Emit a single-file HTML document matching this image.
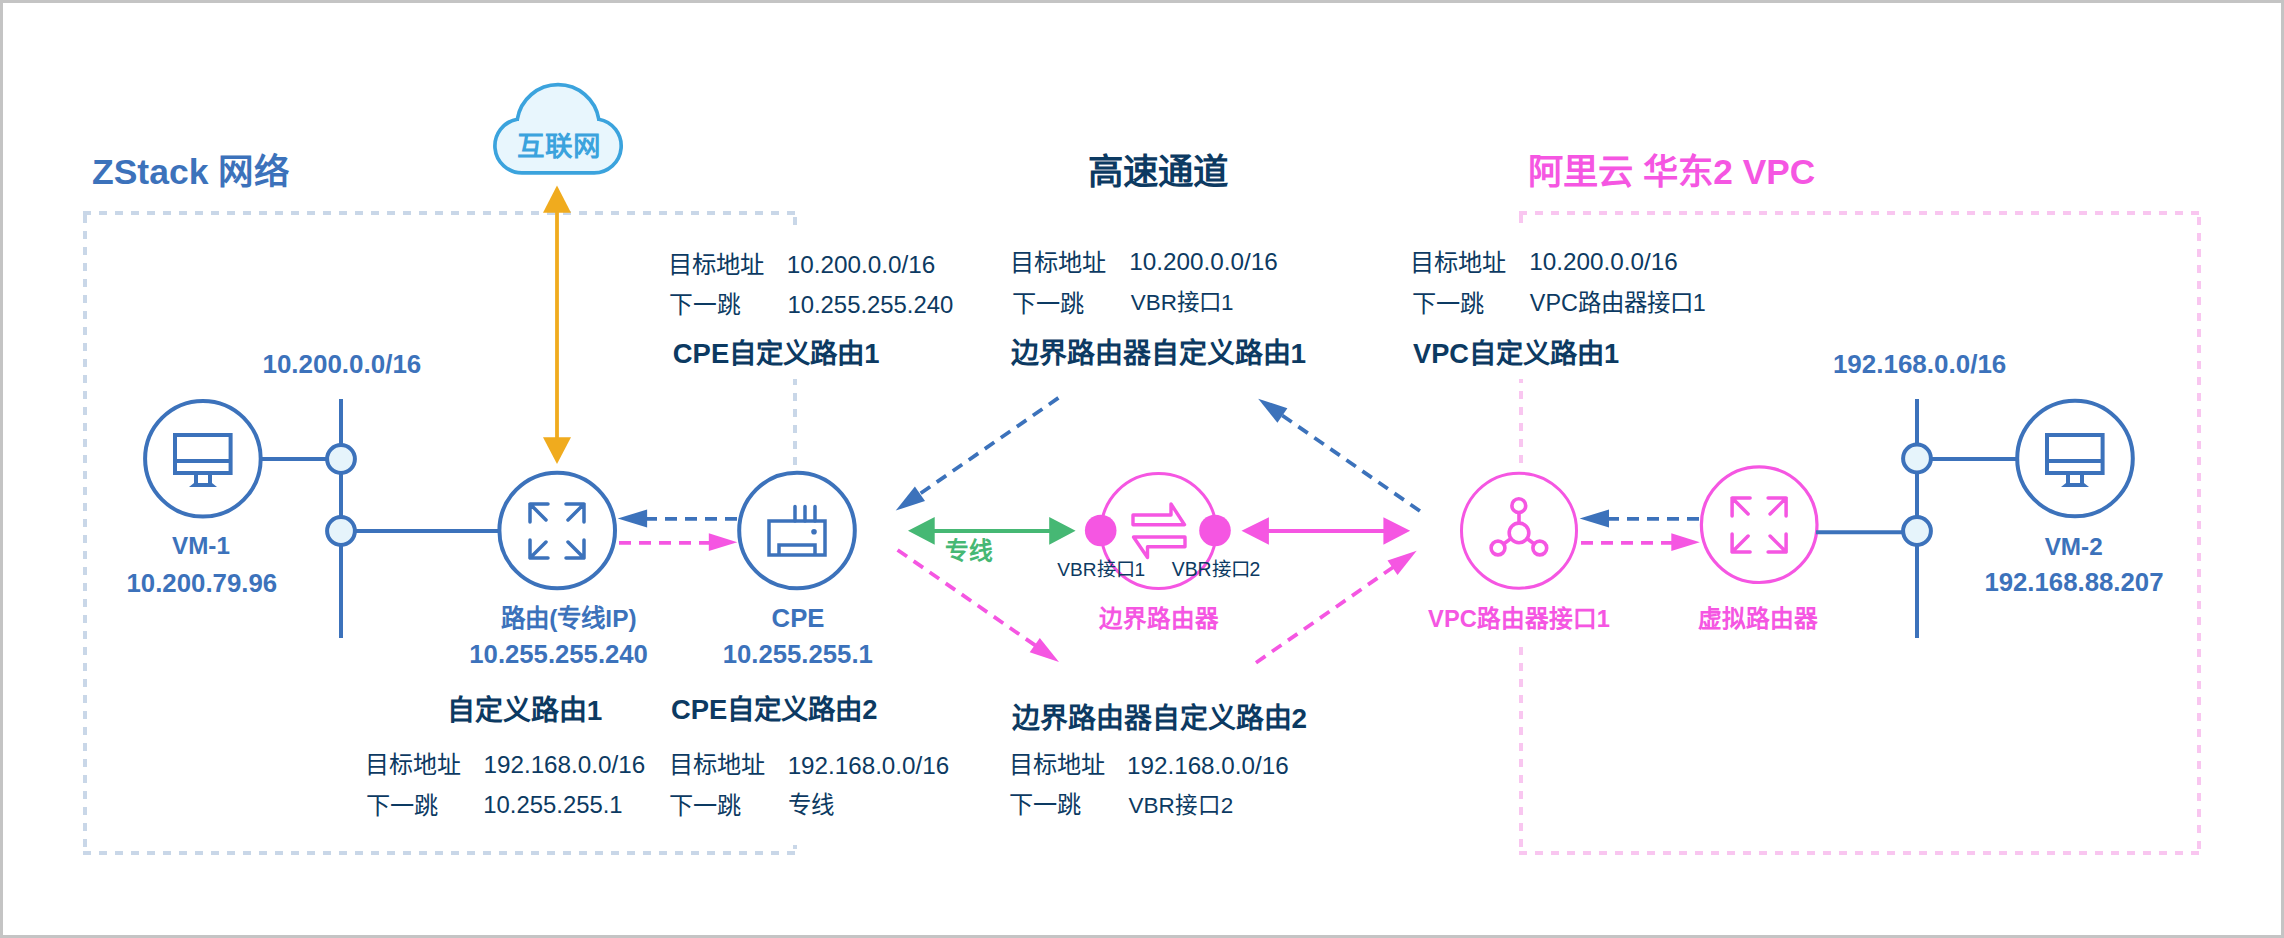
<!DOCTYPE html>
<html lang="zh-CN"><head><meta charset="utf-8">
<style>
html,body{margin:0;padding:0;background:#fff;}
body{width:2284px;height:938px;position:relative;overflow:hidden;font-family:"Liberation Sans",sans-serif;}
#frame{position:absolute;left:0;top:0;width:2278px;height:932px;border:3px solid #c4c4c4;}
svg{position:absolute;left:0;top:0;}
.t{position:absolute;white-space:nowrap;line-height:1;}
.c{transform:translateX(-50%);}
.nav{color:#0c3a62;}
.blu{color:#3c72bb;}
.pnk{color:#f556e2;}
.r{font-size:23px;}
.b{font-weight:bold;}
.b .k{}
</style></head>
<body>
<div id="frame"></div>
<svg width="2284" height="938" viewBox="0 0 2284 938">
  <defs>
    <clipPath id="clipZR"><rect x="780" y="210" width="30" height="15"/><rect x="780" y="379" width="30" height="86"/><rect x="780" y="845" width="30" height="15"/></clipPath>
    <clipPath id="clipPL"><rect x="1505" y="210" width="30" height="13"/><rect x="1505" y="379" width="30" height="84"/><rect x="1505" y="644" width="30" height="215"/></clipPath>
    <g id="monitor">
      <rect x="-28" y="-24" width="55.6" height="38" fill="none" stroke="#3c72bb" stroke-width="4"/>
      <line x1="-28" y1="2" x2="27.6" y2="2" stroke="#3c72bb" stroke-width="4"/>
      <path d="M-7 16 V24 M7 16 V24" stroke="#3c72bb" stroke-width="4"/>
      <path d="M-9 24 H9 L14 28 H-14 Z" fill="#3c72bb"/>
    </g>
    <g id="expand">
      <path d="M-27 -9 V-27 H-9 M-27 -27 L-11 -11 M27 -9 V-27 H9 M27 -27 L11 -11 M-27 9 V27 H-9 M-27 27 L-11 11 M27 9 V27 H9 M27 27 L11 11" fill="none" stroke-width="3.5" stroke-linecap="round" stroke-linejoin="round"/>
    </g>
  </defs>

  <!-- dashed boxes -->
  <g stroke="#c9d7e8" stroke-width="4" fill="none" stroke-dasharray="8 8">
    <line x1="83" y1="213" x2="797" y2="213"/>
    <line x1="85" y1="215" x2="85" y2="855"/>
    <line x1="83" y1="853" x2="797" y2="853"/>
    <line x1="795" y1="217" x2="795" y2="855" clip-path="url(#clipZR)"/>
  </g>
  <g stroke="#f9c6f0" stroke-width="4" fill="none" stroke-dasharray="8 8">
    <line x1="1519" y1="213" x2="2201" y2="213"/>
    <line x1="1521" y1="215" x2="1521" y2="855" clip-path="url(#clipPL)"/>
    <line x1="1519" y1="853" x2="2201" y2="853"/>
    <line x1="2199" y1="217" x2="2199" y2="855"/>
  </g>

  <!-- cloud -->
  <path d="M522.1 172.9 A27 27 0 0 1 517.3 119.3 A41.3 41.3 0 0 1 598.8 119.3 A27 27 0 0 1 594 172.9 Z" fill="#e8f6fd" stroke="#3ba3dd" stroke-width="3.7"/>

  <!-- orange arrow -->
  <line x1="557" y1="211" x2="557" y2="439" stroke="#f0ab1e" stroke-width="3.8"/>
  <path d="M557 185.6 L571 212.7 H543 Z" fill="#f0ab1e"/>
  <path d="M557 464.1 L571 437.3 H543 Z" fill="#f0ab1e"/>

  <!-- left network -->
  <g stroke="#3c72bb" stroke-width="4" fill="none">
    <line x1="341" y1="399" x2="341" y2="638"/>
    <line x1="261" y1="459" x2="326" y2="459"/>
    <line x1="356" y1="531" x2="498" y2="531"/>
    <circle cx="202.9" cy="458.8" r="57.8" fill="#fff"/>
    <circle cx="557.2" cy="530.5" r="57.8" fill="#fff"/>
    <circle cx="797" cy="530.5" r="57.8" fill="#fff"/>
    <circle cx="341" cy="459" r="13.9" fill="#e6f4fb"/>
    <circle cx="341" cy="531" r="13.9" fill="#e6f4fb"/>
  </g>
  <use href="#monitor" x="203" y="459"/>
  <g stroke="#3c72bb"><use href="#expand" x="557" y="531"/></g>
  <!-- CPE icon -->
  <g stroke="#3c72bb" stroke-width="3.5" fill="none">
    <rect x="769" y="521" width="56" height="34"/>
    <path d="M779 555 V545 H815 V555"/>
    <path d="M795 506.5 V521 M805 506.5 V521 M815 506.5 V521" stroke-linecap="round"/>
  </g>
  <circle cx="814" cy="531.8" r="2.8" fill="#3c72bb"/>

  <!-- router<->CPE dashed arrows -->
  <line x1="737" y1="518.8" x2="645" y2="518.8" stroke="#3c72bb" stroke-width="3.8" stroke-dasharray="12 8"/>
  <path d="M617.7 518.5 L647.1 509.5 V527.5 Z" fill="#3c72bb"/>
  <line x1="619" y1="542.8" x2="712" y2="542.8" stroke="#f556e2" stroke-width="3.8" stroke-dasharray="12 8"/>
  <path d="M737.3 542.3 L708.8 533.3 V551 Z" fill="#f556e2"/>

  <!-- green double arrow -->
  <line x1="932" y1="531" x2="1052" y2="531" stroke="#46b874" stroke-width="4"/>
  <path d="M908 530.8 L934.7 517.1 V544.7 Z M1075.6 530.8 L1049.2 517.1 V544.7 Z" fill="#46b874"/>

  <!-- edge router -->
  <circle cx="1158.6" cy="531" r="57.5" fill="#fff" stroke="#f556e2" stroke-width="3"/>
  <path d="M1133 515 H1171 V504 L1184.5 524.7 H1133 Z M1185 537 H1133.5 L1147.5 557.5 V546.8 H1185 Z" fill="none" stroke="#f556e2" stroke-width="3.4" stroke-linejoin="round"/>
  <circle cx="1100.7" cy="530.5" r="15.8" fill="#f556e2"/>
  <circle cx="1215" cy="530.5" r="15.8" fill="#f556e2"/>

  <!-- pink double arrow -->
  <line x1="1266" y1="531" x2="1386" y2="531" stroke="#f556e2" stroke-width="4"/>
  <path d="M1241.5 530.7 L1268.9 517.3 V544.7 Z M1410.2 530.7 L1383.4 517.3 V544.7 Z" fill="#f556e2"/>

  <!-- diagonal arrows -->
  <g stroke-width="3.8" stroke-dasharray="11.5 8">
    <line x1="1058.4" y1="397.9" x2="918.3" y2="494.9" stroke="#3c72bb"/>
    <path d="M895.7 510.6 L914.9 486.6 L925.0 501.0 Z" fill="#3c72bb" stroke="none"/>
    <line x1="1419.9" y1="511" x2="1280.8" y2="414.4" stroke="#3c72bb"/>
    <path d="M1258.2 398.7 L1287.4 408.3 L1277.4 422.8 Z" fill="#3c72bb" stroke="none"/>
    <line x1="897.6" y1="550" x2="1036.4" y2="646.2" stroke="#f556e2"/>
    <path d="M1059 661.9 L1029.7 652.3 L1039.8 637.9 Z" fill="#f556e2" stroke="none"/>
    <line x1="1256" y1="662.7" x2="1394.1" y2="566.5" stroke="#f556e2"/>
    <path d="M1416.7 550.8 L1397.5 574.9 L1387.5 560.4 Z" fill="#f556e2" stroke="none"/>
  </g>

  <!-- VPC router interface -->
  <circle cx="1519" cy="530.7" r="57.5" fill="#fff" stroke="#f556e2" stroke-width="3"/>
  <g stroke="#f556e2" stroke-width="3.6" fill="none">
    <circle cx="1519" cy="532.9" r="9.8"/>
    <circle cx="1518.8" cy="505.7" r="6.9"/>
    <circle cx="1498" cy="548" r="6.9"/>
    <circle cx="1539.8" cy="548" r="6.9"/>
    <line x1="1519" y1="512.6" x2="1519" y2="523.1"/>
    <line x1="1503.5" y1="544" x2="1511" y2="538.5"/>
    <line x1="1534.3" y1="544" x2="1527" y2="538.5"/>
  </g>
  <!-- VPC <-> virtual router dashed arrows -->
  <line x1="1699" y1="518.8" x2="1606" y2="518.8" stroke="#3c72bb" stroke-width="3.8" stroke-dasharray="12 8"/>
  <path d="M1579.6 518.5 L1609 509.5 V527.5 Z" fill="#3c72bb"/>
  <line x1="1581" y1="542.8" x2="1674" y2="542.8" stroke="#f556e2" stroke-width="3.8" stroke-dasharray="12 8"/>
  <path d="M1699.8 542.3 L1671.3 533.3 V551 Z" fill="#f556e2"/>

  <!-- virtual router -->
  <circle cx="1759.2" cy="524.7" r="57.8" fill="#fff" stroke="#f556e2" stroke-width="3.2"/>
  <g stroke="#f556e2"><use href="#expand" x="1759.1" y="525"/></g>

  <!-- right network -->
  <g stroke="#3c72bb" stroke-width="4" fill="none">
    <line x1="1917" y1="399" x2="1917" y2="638"/>
    <line x1="1932" y1="459" x2="2016" y2="459"/>
    <line x1="1816" y1="532.2" x2="1902" y2="532.2"/>
    <circle cx="2075" cy="458.5" r="57.8" fill="#fff"/>
    <circle cx="1917" cy="458.5" r="13.9" fill="#e6f4fb"/>
    <circle cx="1917" cy="531" r="13.9" fill="#e6f4fb"/>
  </g>
  <use href="#monitor" x="2075" y="459"/>
</svg>

<div class="t b blu" style="left:92.00px;top:155.30px;font-size:35.51px;">ZStack <span class="k">网络</span></div>
<div class="t b nav" style="left:1088.25px;top:155.20px;font-size:35.45px;"><span class="k">高速通道</span></div>
<div class="t b pnk" style="left:1528.45px;top:154.20px;font-size:35.28px;"><span class="k">阿里云</span> <span class="k">华东</span>2 VPC</div>
<div class="t b" style="left:517.00px;top:132.70px;font-size:27.55px;color:#3ba3dd;"><span class="k">互联网</span></div>
<div class="t nav" style="left:668.25px;top:252.50px;font-size:24.35px;">目标地址</div>
<div class="t nav" style="left:786.75px;top:253.20px;font-size:24.29px;">10.200.0.0/16</div>
<div class="t nav" style="left:669.25px;top:293.10px;font-size:23.77px;">下一跳</div>
<div class="t nav" style="left:787.45px;top:292.90px;font-size:23.87px;">10.255.255.240</div>
<div class="t b nav" style="left:672.80px;top:339.60px;font-size:27.44px;">CPE<span class="k">自定义路由</span>1</div>
<div class="t nav" style="left:1010.20px;top:250.70px;font-size:24.20px;">目标地址</div>
<div class="t nav" style="left:1129.15px;top:250.20px;font-size:24.30px;">10.200.0.0/16</div>
<div class="t nav" style="left:1011.60px;top:291.50px;font-size:24.20px;">下一跳</div>
<div class="t nav" style="left:1130.75px;top:292.00px;font-size:22.45px;">VBR接口1</div>
<div class="t b nav" style="left:1010.55px;top:340.00px;font-size:27.98px;"><span class="k">边界路由器自定义路由</span>1</div>
<div class="t nav" style="left:1410.20px;top:250.70px;font-size:24.20px;">目标地址</div>
<div class="t nav" style="left:1529.15px;top:250.20px;font-size:24.30px;">10.200.0.0/16</div>
<div class="t nav" style="left:1411.60px;top:291.50px;font-size:24.20px;">下一跳</div>
<div class="t nav" style="left:1529.80px;top:292.00px;font-size:23.38px;">VPC路由器接口1</div>
<div class="t b nav" style="left:1413.05px;top:340.00px;font-size:27.23px;">VPC<span class="k">自定义路由</span>1</div>
<div class="t b blu" style="left:262.45px;top:351.90px;font-size:25.97px;">10.200.0.0/16</div>
<div class="t b blu" style="left:1832.90px;top:351.00px;font-size:25.99px;">192.168.0.0/16</div>
<div class="t b blu c" style="left:200.95px;top:534.40px;font-size:24.21px;">VM-1</div>
<div class="t b blu c" style="left:201.80px;top:570.50px;font-size:25.81px;">10.200.79.96</div>
<div class="t b blu c" style="left:568.90px;top:607.40px;font-size:24.47px;"><span class="k">路由</span>(<span class="k">专线</span>IP)</div>
<div class="t b blu c" style="left:558.60px;top:641.90px;font-size:25.70px;">10.255.255.240</div>
<div class="t b blu c" style="left:798.00px;top:606.20px;font-size:25.70px;">CPE</div>
<div class="t b blu c" style="left:797.80px;top:642.10px;font-size:25.71px;">10.255.255.1</div>
<div class="t b" style="left:945.00px;top:539.60px;font-size:23.72px;color:#46b874;"><span class="k">专线</span></div>
<div class="t nav" style="left:1057.35px;top:559.70px;font-size:19.10px;">VBR接口1</div>
<div class="t nav" style="left:1171.75px;top:559.70px;font-size:19.40px;">VBR接口2</div>
<div class="t b pnk c" style="left:1159.00px;top:608.40px;font-size:23.55px;"><span class="k">边界路由器</span></div>
<div class="t b pnk c" style="left:1519.05px;top:608.20px;font-size:23.70px;">VPC<span class="k">路由器接口</span>1</div>
<div class="t b pnk c" style="left:1758.20px;top:607.20px;font-size:23.75px;"><span class="k">虚拟路由器</span></div>
<div class="t b blu c" style="left:2073.70px;top:535.10px;font-size:24.30px;">VM-2</div>
<div class="t b blu c" style="left:2073.95px;top:569.70px;font-size:25.77px;">192.168.88.207</div>
<div class="t b nav" style="left:446.70px;top:696.70px;font-size:27.96px;"><span class="k">自定义路由</span>1</div>
<div class="t b nav" style="left:670.95px;top:696.00px;font-size:27.42px;">CPE<span class="k">自定义路由</span>2</div>
<div class="t b nav" style="left:1011.60px;top:704.60px;font-size:27.89px;"><span class="k">边界路由器自定义路由</span>2</div>
<div class="t nav" style="left:364.60px;top:753.30px;font-size:24.00px;">目标地址</div>
<div class="t nav" style="left:483.45px;top:753.00px;font-size:24.26px;">192.168.0.0/16</div>
<div class="t nav" style="left:365.60px;top:793.90px;font-size:24.20px;">下一跳</div>
<div class="t nav" style="left:483.30px;top:793.00px;font-size:23.86px;">10.255.255.1</div>
<div class="t nav" style="left:668.60px;top:752.80px;font-size:24.20px;">目标地址</div>
<div class="t nav" style="left:787.65px;top:753.50px;font-size:24.21px;">192.168.0.0/16</div>
<div class="t nav" style="left:669.20px;top:793.90px;font-size:24.20px;">下一跳</div>
<div class="t nav" style="left:787.90px;top:793.60px;font-size:23.44px;">专线</div>
<div class="t nav" style="left:1008.60px;top:752.50px;font-size:24.20px;">目标地址</div>
<div class="t nav" style="left:1127.05px;top:753.50px;font-size:24.22px;">192.168.0.0/16</div>
<div class="t nav" style="left:1009.40px;top:793.20px;font-size:24.20px;">下一跳</div>
<div class="t nav" style="left:1128.45px;top:794.70px;font-size:22.51px;">VBR接口2</div>
</body></html>
